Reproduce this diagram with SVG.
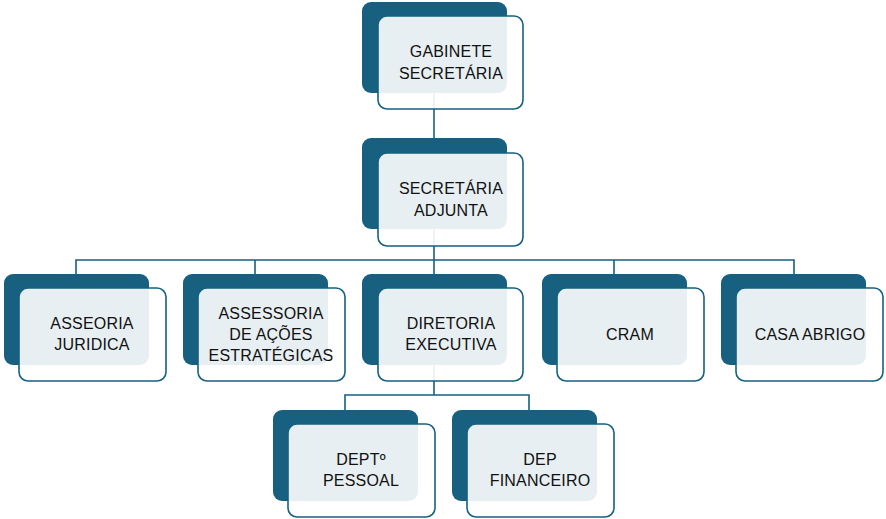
<svg xmlns="http://www.w3.org/2000/svg" width="886" height="519" viewBox="0 0 886 519">
<style>
.back{fill:#17607f;}
.front{fill:#ffffff;fill-opacity:0.9;stroke:#17607f;stroke-width:1.6;}
.lbl{font-family:"Liberation Sans",Arial,sans-serif;font-size:16px;letter-spacing:0.2px;fill:#111111;text-anchor:middle;}
.conn{fill:none;stroke:#17607f;stroke-width:1.6;}
</style>
<rect width="886" height="519" fill="#ffffff"/>
<g id="connectors">
<path class="conn" d="M434 93 V138"/>
<path class="conn" d="M434 228 V260 M76 274 V260 H794 V274 M255 260 V274 M434 260 V274 M614 260 V274"/>
<path class="conn" d="M434 365 V395 M345 410 V395 H529 V410"/>
</g>
<g id="gabinete">
<rect class="back" x="362" y="2" width="145" height="91" rx="9"/>
<rect class="front" x="378" y="16" width="145" height="93" rx="9"/>
<text class="lbl" x="451" y="57">GABINETE</text>
<text class="lbl" x="451" y="79">SECRETÁRIA</text>
</g>
<g id="adjunta">
<rect class="back" x="362" y="138" width="145" height="91" rx="9"/>
<rect class="front" x="378" y="153" width="145" height="93" rx="9"/>
<text class="lbl" x="451" y="194">SECRETÁRIA</text>
<text class="lbl" x="451" y="216">ADJUNTA</text>
</g>
<g id="asseoria">
<rect class="back" x="4" y="274" width="145" height="91" rx="9"/>
<rect class="front" x="19" y="288" width="147" height="93" rx="9"/>
<text class="lbl" x="92" y="329">ASSEORIA</text>
<text class="lbl" x="92" y="350">JURIDICA</text>
</g>
<g id="assessoria">
<rect class="back" x="183" y="274" width="145" height="91" rx="9"/>
<rect class="front" x="198" y="288" width="147" height="93" rx="9"/>
<text class="lbl" x="271" y="319">ASSESSORIA</text>
<text class="lbl" x="271" y="340">DE AÇÕES</text>
<text class="lbl" x="271" y="361">ESTRATÉGICAS</text>
</g>
<g id="diretoria">
<rect class="back" x="362" y="274" width="145" height="91" rx="9"/>
<rect class="front" x="378" y="288" width="145" height="93" rx="9"/>
<text class="lbl" x="451" y="329">DIRETORIA</text>
<text class="lbl" x="451" y="350">EXECUTIVA</text>
</g>
<g id="cram">
<rect class="back" x="542" y="274" width="145" height="91" rx="9"/>
<rect class="front" x="557" y="288" width="147" height="93" rx="9"/>
<text class="lbl" x="630" y="340">CRAM</text>
</g>
<g id="casa-abrigo">
<rect class="back" x="721" y="274" width="145" height="91" rx="9"/>
<rect class="front" x="736" y="288" width="147" height="93" rx="9"/>
<text class="lbl" x="810" y="340">CASA ABRIGO</text>
</g>
<g id="pessoal">
<rect class="back" x="273" y="410" width="145" height="91" rx="9"/>
<rect class="front" x="288" y="424" width="147" height="93" rx="9"/>
<text class="lbl" x="361" y="465">DEPTº</text>
<text class="lbl" x="361" y="486">PESSOAL</text>
</g>
<g id="financeiro">
<rect class="back" x="452" y="410" width="145" height="91" rx="9"/>
<rect class="front" x="467" y="424" width="147" height="93" rx="9"/>
<text class="lbl" x="540" y="465">DEP</text>
<text class="lbl" x="540" y="486">FINANCEIRO</text>
</g>
</svg>
